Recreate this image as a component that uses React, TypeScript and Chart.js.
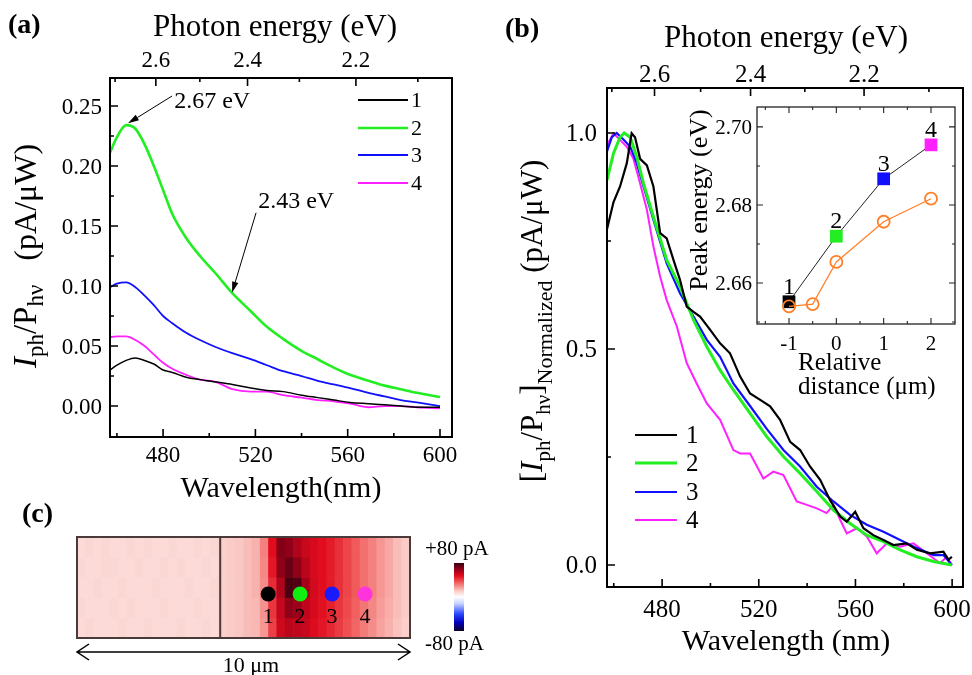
import React, { useEffect, useRef } from 'react';
import { Chart, registerables } from 'chart.js';

Chart.register(...registerables);

const W = 972;
const H = 675;
const SERIF = '"Liberation Serif", "Times New Roman", serif';
const HC = 1239.84; // eV·nm, wavelength <-> photon energy

// ---------------- shared series info ----------------
const seriesLabels = ['1', '2', '3', '4'];
const seriesColors = ['#000000', '#22ee22', '#1010ff', '#ff20ff'];

// ---------------- panel (a): raw spectra ----------------
const wlA = [457, 460, 464, 468, 472, 476, 480, 484, 490, 496, 503, 510, 518, 525, 532, 540, 547, 554, 561, 569, 576, 583, 590, 600];
const a1 = [0.030, 0.034, 0.038, 0.040, 0.038, 0.035, 0.030, 0.028, 0.024, 0.022, 0.020, 0.018, 0.015, 0.013, 0.012, 0.009, 0.007, 0.005, 0.003, 0.002, 0.001, 0.000, -0.001, -0.001];
const a2 = [0.211, 0.224, 0.234, 0.231, 0.218, 0.200, 0.180, 0.160, 0.140, 0.125, 0.110, 0.094, 0.079, 0.066, 0.056, 0.046, 0.039, 0.032, 0.026, 0.021, 0.017, 0.014, 0.011, 0.0075];
const a3 = [0.099, 0.102, 0.103, 0.099, 0.092, 0.084, 0.075, 0.069, 0.061, 0.055, 0.049, 0.044, 0.039, 0.034, 0.029, 0.025, 0.021, 0.018, 0.015, 0.011, 0.008, 0.005, 0.003, 0.000];
const a4 = [0.0575, 0.058, 0.058, 0.055, 0.050, 0.043, 0.036, 0.031, 0.026, 0.022, 0.020, 0.014, 0.012, 0.012, 0.009, 0.007, 0.005, 0.004, 0.002, -0.001, 0.000, 0.000, -0.001, -0.002];

// ---------------- panel (b): normalized spectra ----------------
const wlB1 = [457.1, 459.9, 462.6, 465.4, 467.4, 468.8, 470.9, 473.7, 476.4, 479.2, 481.9, 484.7, 487.4, 490.2, 493, 495.7, 499.9, 504, 508.1, 512.3, 516.4, 520.6, 524.7, 528.8, 533, 537.1, 541.2, 545.4, 549.5, 553.7, 556.4, 559.9, 563.3, 567.4, 571.6, 575.7, 581.2, 585.4, 590.9, 596.4, 598.5, 599.9];
const b1 = [0.775, 0.84, 0.876, 0.93, 0.999, 0.99, 0.94, 0.925, 0.876, 0.768, 0.756, 0.706, 0.66, 0.598, 0.586, 0.575, 0.544, 0.513, 0.49, 0.436, 0.397, 0.382, 0.367, 0.336, 0.285, 0.266, 0.228, 0.197, 0.15, 0.112, 0.1, 0.123, 0.085, 0.069, 0.058, 0.046, 0.05, 0.035, 0.027, 0.031, 0.012, 0.019];
const wlB2 = [457.2, 459.9, 462.6, 464.3, 466.8, 469.5, 472.3, 476.4, 481.9, 487.4, 493, 498.5, 504, 509.5, 516.4, 523.3, 530.2, 537.1, 544, 550.9, 557.8, 564.7, 571.6, 578.5, 585.4, 592.3, 599.9];
const b2 = [0.891, 0.953, 0.99, 1.0, 0.99, 0.945, 0.883, 0.806, 0.706, 0.644, 0.567, 0.505, 0.451, 0.405, 0.351, 0.297, 0.251, 0.212, 0.17, 0.127, 0.096, 0.069, 0.054, 0.035, 0.019, 0.008, 0.0];
const wlB3 = [457.2, 459.2, 461.2, 464, 466.8, 469.5, 472.3, 476.4, 481.9, 487.4, 493, 498.5, 504, 509.5, 516.4, 523.3, 530.2, 537.1, 544, 550.9, 557.8, 564.7, 571.6, 578.5, 585.4, 592.3, 596.4, 599.9];
const b3 = [0.957, 0.99, 1.0, 0.985, 0.968, 0.93, 0.876, 0.799, 0.698, 0.629, 0.575, 0.521, 0.482, 0.42, 0.368, 0.315, 0.266, 0.228, 0.181, 0.147, 0.116, 0.093, 0.077, 0.058, 0.039, 0.023, 0.023, 0.0];
const wlB4 = [457.2, 459.9, 462.6, 465.4, 468.1, 470.9, 473.7, 476.4, 479.2, 481.9, 486.1, 490.2, 494.3, 498.5, 504, 509.5, 512.3, 516.4, 521.9, 526, 530.2, 535.7, 539.9, 544, 548.1, 550.9, 553.7, 556.4, 560.6, 564.7, 568.8, 573, 578.5, 584, 589.5, 595, 597.8, 599.9];
const b4 = [0.972, 0.999, 0.984, 0.968, 0.941, 0.883, 0.822, 0.737, 0.667, 0.613, 0.552, 0.467, 0.42, 0.374, 0.336, 0.266, 0.258, 0.258, 0.2, 0.216, 0.208, 0.147, 0.139, 0.131, 0.12, 0.139, 0.104, 0.073, 0.085, 0.066, 0.027, 0.05, 0.042, 0.05, 0.027, 0.004, 0.019, 0.0];

// ---------------- inset: peak energy vs relative distance ----------------
const insetSquareX = [-1, 0, 1, 2];
const insetSquareY = [2.6552, 2.672, 2.6867, 2.6954];
const insetSquareLabels = ['1', '2', '3', '4'];
const insetCircleX = [-1, -0.5, 0, 1, 2];
const insetCircleY = [2.654, 2.6546, 2.6654, 2.6757, 2.6816];

// ---------------- panel (c): photocurrent map (pA), rows top -> bottom ----------------
const heatRow0 = [10, 11, 10, 11, 10, 10, 11, 10, 11, 10, 10, 11, 10, 10, 11, 10, 11, 13, 14, 15, 17, 19, 28, 50, 68, 66, 60, 55, 52, 50, 47, 43, 39, 35, 31, 28, 24, 21, 17, 14];
const heatRow1 = [11, 10, 10, 11, 11, 10, 10, 11, 10, 10, 11, 10, 11, 10, 10, 11, 10, 13, 14, 15, 17, 19, 27, 48, 66, 72, 66, 58, 52, 50, 47, 43, 39, 35, 31, 28, 24, 21, 17, 14];
const heatRow2 = [10, 10, 11, 10, 10, 11, 10, 10, 10, 11, 10, 10, 10, 11, 10, 10, 11, 13, 14, 15, 17, 19, 26, 44, 60, 77, 76, 62, 53, 50, 47, 43, 39, 35, 31, 28, 24, 21, 17, 14];
const heatRow3 = [11, 10, 10, 10, 11, 10, 11, 10, 10, 10, 11, 10, 10, 10, 11, 10, 10, 13, 14, 15, 17, 18, 25, 42, 56, 66, 64, 57, 52, 49, 46, 42, 38, 34, 30, 27, 23, 20, 17, 14];
const heatRow4 = [10, 11, 10, 10, 10, 11, 10, 10, 11, 10, 10, 10, 11, 10, 10, 11, 10, 13, 14, 15, 17, 18, 24, 40, 54, 58, 57, 55, 51, 48, 45, 41, 37, 33, 29, 26, 22, 19, 16, 13];
const heatRows = [heatRow0, heatRow1, heatRow2, heatRow3, heatRow4];
const heatWidthUm = 10;
const heatDividerUm = 4.3;
const dotX = [5.74, 6.7, 7.66, 8.65];
const dotY = 2.18;
const dotColors = ['#000000', '#11ee11', '#1a1aff', '#ff33dd'];
const colorbarLabels = ['+80 pA', '-80 pA'];
const scaleBarLabel = '10 μm';

// ---------------- ticks ----------------
const wlMajorTicks = [480, 520, 560, 600];
const wlMinorTicks = [460, 500, 540, 580];
const energyMajorTicks = [2.6, 2.4, 2.2];
const energyTickLabels = ['2.6', '2.4', '2.2'];
const energyMinorTicks = [2.7, 2.5, 2.3, 2.1];
const yMajorTicksA = [0, 0.05, 0.1, 0.15, 0.2, 0.25];
const yTickLabelsA = ['0.00', '0.05', '0.10', '0.15', '0.20', '0.25'];
const yMinorTicksA = [0.025, 0.075, 0.125, 0.175, 0.225];
const yMajorTicksB = [0, 0.5, 1.0];
const yTickLabelsB = ['0.0', '0.5', '1.0'];
const yMinorTicksB = [0.25, 0.75];
const insetXMajor = [-1, 0, 1, 2];
const insetXLabels = ['-1', '0', '1', '2'];
const insetXMinor = [-1.5, -0.5, 0.5, 1.5];
const insetYMajor = [2.66, 2.68, 2.7];
const insetYLabels = ['2.66', '2.68', '2.70'];
const insetYMinor = [2.65, 2.67, 2.69];

// annotations of panel (a), in data units [wavelength, value]
const annotationsA = [
  { text: '2.67 eV', textAt: [484.8, 0.248], from: [483.9, 0.2583], to: [464.8, 0.2355] },
  { text: '2.43 eV', textAt: [521.2, 0.165], from: [520.3, 0.161], to: [509.9, 0.0945] },
];

// colour map of the photocurrent map (value pA -> rgb)
const heatStops: [number, number[]][] = [
  [-80, [15, 0, 40]], [-60, [0, 0, 190]], [-40, [40, 70, 255]], [-15, [200, 212, 255]],
  [0, [255, 255, 255]], [15, [250, 200, 195]], [35, [240, 90, 90]], [50, [225, 12, 30]],
  [65, [150, 0, 25]], [80, [55, 0, 15]],
];

function heatColor(v: number): string {
  if (v <= heatStops[0][0]) return `rgb(${heatStops[0][1].join(',')})`;
  for (let i = 1; i < heatStops.length; i++) {
    const [v1, c1] = heatStops[i];
    const [v0, c0] = heatStops[i - 1];
    if (v <= v1) {
      const t = (v - v0) / (v1 - v0);
      const c = c0.map((k, j) => Math.round(k + (c1[j] - k) * t));
      return `rgb(${c.join(',')})`;
    }
  }
  return `rgb(${heatStops[heatStops.length - 1][1].join(',')})`;
}

// ---------------- drawing helpers ----------------
type Run = { t: string; size: number; italic?: boolean; bold?: boolean; dy?: number };

function runFont(r: Run) {
  return `${r.italic ? 'italic ' : ''}${r.bold ? 'bold ' : ''}${r.size}px ${SERIF}`;
}

function drawRich(ctx: CanvasRenderingContext2D, runs: Run[], x: number, y: number, rot = 0, align: 'center' | 'left' = 'center') {
  ctx.save();
  ctx.translate(x, y);
  if (rot) ctx.rotate(rot);
  ctx.textAlign = 'left';
  ctx.textBaseline = 'alphabetic';
  let total = 0;
  const widths = runs.map((r) => {
    ctx.font = runFont(r);
    const w = ctx.measureText(r.t).width;
    total += w;
    return w;
  });
  let cx = align === 'center' ? -total / 2 : 0;
  runs.forEach((r, i) => {
    ctx.font = runFont(r);
    ctx.fillText(r.t, cx, r.dy || 0);
    cx += widths[i];
  });
  ctx.restore();
}

function txt(ctx: CanvasRenderingContext2D, s: string, x: number, y: number, size: number, align: CanvasTextAlign = 'center', style = '') {
  ctx.font = `${style}${size}px ${SERIF}`;
  ctx.textAlign = align;
  ctx.textBaseline = 'alphabetic';
  ctx.fillText(s, x, y);
}

type Side = 'bottom' | 'top' | 'left' | 'right';
function drawTicks(chart: any, side: Side, pixels: number[], len: number) {
  const { ctx, chartArea: a } = chart;
  ctx.beginPath();
  pixels.forEach((p) => {
    if (side === 'bottom') { ctx.moveTo(p, a.bottom); ctx.lineTo(p, a.bottom - len); }
    else if (side === 'top') { ctx.moveTo(p, a.top); ctx.lineTo(p, a.top + len); }
    else if (side === 'left') { ctx.moveTo(a.left, p); ctx.lineTo(a.left + len, p); }
    else { ctx.moveTo(a.right, p); ctx.lineTo(a.right - len, p); }
  });
  ctx.stroke();
}

function arrow(ctx: CanvasRenderingContext2D, x0: number, y0: number, x1: number, y1: number, head = 11, half = 3.2) {
  const ang = Math.atan2(y1 - y0, x1 - x0);
  const bx = x1 - head * Math.cos(ang);
  const by = y1 - head * Math.sin(ang);
  ctx.beginPath();
  ctx.moveTo(x0, y0);
  ctx.lineTo(bx, by);
  ctx.stroke();
  ctx.beginPath();
  ctx.moveTo(x1, y1);
  ctx.lineTo(bx + half * Math.sin(ang), by - half * Math.cos(ang));
  ctx.lineTo(bx - half * Math.sin(ang), by + half * Math.cos(ang));
  ctx.closePath();
  ctx.fill();
}

function baseOptions(padding: any, xr: number[], yr: number[]) {
  return {
    animation: false,
    responsive: false,
    maintainAspectRatio: false,
    events: [],
    layout: { padding },
    plugins: { legend: { display: false }, tooltip: { enabled: false }, title: { display: false } },
    scales: {
      x: { type: 'linear', min: xr[0], max: xr[1], display: false },
      y: { type: 'linear', min: yr[0], max: yr[1], display: false },
    },
  };
}

function drawLegend(ctx: CanvasRenderingContext2D, chart: any, x0: number, x1: number, xText: number, ys: number[], size: number) {
  chart.data.datasets.forEach((ds: any, i: number) => {
    ctx.strokeStyle = ds.borderColor;
    ctx.lineWidth = Math.max(ds.borderWidth, 2);
    ctx.beginPath();
    ctx.moveTo(x0, ys[i]);
    ctx.lineTo(x1, ys[i]);
    ctx.stroke();
    ctx.fillStyle = '#000';
    txt(ctx, ds.label, xText, ys[i] + size * 0.33, size, 'left');
  });
}

// ---------------- panel (a) ----------------
const widthsA = [1.5, 2.6, 1.8, 1.8];
const seriesA = [a1, a2, a3, a4];

const panelAPlugin = {
  id: 'panelA',
  afterDraw(chart: any) {
    const { ctx, chartArea: a } = chart;
    const x = chart.scales.x;
    const y = chart.scales.y;
    ctx.save();
    ctx.strokeStyle = '#000';
    ctx.fillStyle = '#000';
    ctx.lineWidth = 2;
    ctx.strokeRect(a.left, a.top, a.width, a.height);
    ctx.lineWidth = 1.6;
    drawTicks(chart, 'bottom', wlMajorTicks.map((v) => x.getPixelForValue(v)), 8);
    drawTicks(chart, 'bottom', wlMinorTicks.map((v) => x.getPixelForValue(v)), 4);
    drawTicks(chart, 'top', energyMajorTicks.map((e) => x.getPixelForValue(HC / e)), 8);
    drawTicks(chart, 'top', energyMinorTicks.map((e) => x.getPixelForValue(HC / e)), 4);
    drawTicks(chart, 'left', yMajorTicksA.map((v) => y.getPixelForValue(v)), 8);
    drawTicks(chart, 'left', yMinorTicksA.map((v) => y.getPixelForValue(v)), 4);

    wlMajorTicks.forEach((v) => txt(ctx, String(v), x.getPixelForValue(v), a.bottom + 25, 23));
    energyMajorTicks.forEach((e, i) => txt(ctx, energyTickLabels[i], x.getPixelForValue(HC / e), a.top - 11, 23));
    yMajorTicksA.forEach((v, i) => txt(ctx, yTickLabelsA[i], a.left - 8, y.getPixelForValue(v) + 7.6, 23, 'right'));

    // titles
    txt(ctx, 'Photon energy (eV)', 275, 36, 31);
    txt(ctx, 'Wavelength(nm)', 281, 497, 30);
    drawRich(ctx, [
      { t: 'I', size: 33, italic: true },
      { t: 'ph', size: 23, dy: 7 },
      { t: '/P', size: 33 },
      { t: 'hν', size: 23, dy: 7 },
      { t: '   (pA/μW)', size: 32 },
    ], 36, 256, -Math.PI / 2);
    txt(ctx, '(a)', 8, 33, 28, 'left', 'bold ');

    // annotations
    ctx.lineWidth = 1;
    annotationsA.forEach((an) => {
      txt(ctx, an.text, x.getPixelForValue(an.textAt[0]), y.getPixelForValue(an.textAt[1]), 24, 'left');
      arrow(ctx, x.getPixelForValue(an.from[0]), y.getPixelForValue(an.from[1]), x.getPixelForValue(an.to[0]), y.getPixelForValue(an.to[1]));
    });

    drawLegend(ctx, chart, 358, 408, 411, [100, 128, 155, 183], 22);
    ctx.restore();
  },
};

function configA(): any {
  const opts: any = baseOptions({ left: 110, top: 78, right: W - 452, bottom: H - 437 }, [457.0, 605.2], [-0.0258, 0.2733]);
  return {
    type: 'line',
    data: {
      datasets: seriesA.map((vals, i) => ({
        label: seriesLabels[i],
        data: wlA.map((w, j) => ({ x: w, y: vals[j] })),
        borderColor: seriesColors[i],
        borderWidth: widthsA[i],
        pointRadius: 0,
        cubicInterpolationMode: 'monotone',
        fill: false,
      })),
    },
    options: opts,
    plugins: [panelAPlugin],
  };
}

// ---------------- panel (b) ----------------
const widthsB = [2.2, 3, 2.2, 2];
const seriesB = [[wlB1, b1], [wlB2, b2], [wlB3, b3], [wlB4, b4]];

const panelBPlugin = {
  id: 'panelB',
  afterDraw(chart: any) {
    const { ctx, chartArea: a } = chart;
    const x = chart.scales.x;
    const y = chart.scales.y;
    ctx.save();
    ctx.strokeStyle = '#000';
    ctx.fillStyle = '#000';
    ctx.lineWidth = 2;
    ctx.strokeRect(a.left, a.top, a.width, a.height);
    ctx.lineWidth = 1.6;
    drawTicks(chart, 'bottom', wlMajorTicks.map((v) => x.getPixelForValue(v)), 8);
    drawTicks(chart, 'bottom', wlMinorTicks.map((v) => x.getPixelForValue(v)), 4);
    drawTicks(chart, 'top', energyMajorTicks.map((e) => x.getPixelForValue(HC / e)), 8);
    drawTicks(chart, 'top', energyMinorTicks.map((e) => x.getPixelForValue(HC / e)), 4);
    drawTicks(chart, 'left', yMajorTicksB.map((v) => y.getPixelForValue(v)), 8);
    drawTicks(chart, 'left', yMinorTicksB.map((v) => y.getPixelForValue(v)), 4);

    wlMajorTicks.forEach((v) => txt(ctx, String(v), x.getPixelForValue(v), a.bottom + 30, 25));
    energyMajorTicks.forEach((e, i) => txt(ctx, energyTickLabels[i], x.getPixelForValue(HC / e), a.top - 6, 25));
    yMajorTicksB.forEach((v, i) => txt(ctx, yTickLabelsB[i], a.left - 10, y.getPixelForValue(v) + 8.2, 25, 'right'));

    txt(ctx, 'Photon energy (eV)', 786, 47, 31);
    txt(ctx, 'Wavelength (nm)', 786, 650, 30);
    drawRich(ctx, [
      { t: '[', size: 31 },
      { t: 'I', size: 31, italic: true },
      { t: 'ph', size: 21, dy: 8 },
      { t: '/P', size: 31 },
      { t: 'hν', size: 21, dy: 8 },
      { t: ']', size: 31 },
      { t: 'Normalized', size: 22, dy: 10 },
      { t: ' (pA/μW)', size: 31 },
    ], 542, 321, -Math.PI / 2);
    txt(ctx, '(b)', 505, 37, 28, 'left', 'bold ');

    drawLegend(ctx, chart, 635, 677, 686, [435, 463, 492, 520], 25);
    ctx.restore();
  },
};

function configB(): any {
  const opts: any = baseOptions({ left: 607, top: 88, right: W - 963, bottom: H - 587 }, [457.2, 604.5], [-0.051, 1.104]);
  return {
    type: 'line',
    data: {
      datasets: seriesB.map(([wl, vals], i) => ({
        label: seriesLabels[i],
        data: wl.map((w, j) => ({ x: w, y: vals[j] })),
        borderColor: seriesColors[i],
        borderWidth: widthsB[i],
        pointRadius: 0,
        tension: 0,
        fill: false,
      })),
    },
    options: opts,
    plugins: [panelBPlugin],
  };
}

// ---------------- inset ----------------
const insetPlugin = {
  id: 'inset',
  afterDraw(chart: any) {
    const { ctx, chartArea: a } = chart;
    const x = chart.scales.x;
    const y = chart.scales.y;
    ctx.save();
    ctx.strokeStyle = '#222';
    ctx.fillStyle = '#000';
    ctx.lineWidth = 1.3;
    ctx.strokeRect(a.left, a.top, a.width, a.height);
    ctx.lineWidth = 1.1;
    const xm = insetXMajor.map((v) => x.getPixelForValue(v));
    const xn = insetXMinor.map((v) => x.getPixelForValue(v));
    const ym = insetYMajor.map((v) => y.getPixelForValue(v));
    const yn = insetYMinor.map((v) => y.getPixelForValue(v));
    drawTicks(chart, 'bottom', xm, 6); drawTicks(chart, 'bottom', xn, 3);
    drawTicks(chart, 'top', xm, 6); drawTicks(chart, 'top', xn, 3);
    drawTicks(chart, 'left', ym, 6); drawTicks(chart, 'left', yn, 3);
    drawTicks(chart, 'right', ym, 6); drawTicks(chart, 'right', yn, 3);

    insetXMajor.forEach((v, i) => txt(ctx, insetXLabels[i], x.getPixelForValue(v), a.bottom + 26, 21));
    insetYMajor.forEach((v, i) => txt(ctx, insetYLabels[i], a.left - 5, y.getPixelForValue(v) + 7, 21, 'right'));

    drawRich(ctx, [{ t: 'Peak energy (eV)', size: 26 }], 707, 200, -Math.PI / 2);
    txt(ctx, 'Relative', 798, 370, 25, 'left');
    txt(ctx, 'distance (μm)', 798, 394, 25, 'left');

    insetSquareX.forEach((v, i) => {
      txt(ctx, insetSquareLabels[i], x.getPixelForValue(v), y.getPixelForValue(insetSquareY[i]) - 8, 24);
    });
    ctx.restore();
  },
};

function configInset(): any {
  const opts: any = baseOptions({ left: 757, top: 107, right: W - 955, bottom: H - 324 }, [-1.676, 2.507], [2.6495, 2.7051]);
  const squareColors = seriesColors.slice(0, insetSquareX.length);
  return {
    type: 'line',
    data: {
      datasets: [
        {
          label: 'circles',
          data: insetCircleX.map((v, i) => ({ x: v, y: insetCircleY[i] })),
          borderColor: '#ff7f27',
          borderWidth: 1.2,
          pointStyle: 'circle',
          pointRadius: 6,
          pointBorderWidth: 1.8,
          pointBorderColor: '#ff7f27',
          pointBackgroundColor: 'rgba(255,255,255,0)',
          tension: 0,
        },
        {
          label: 'squares',
          data: insetSquareX.map((v, i) => ({ x: v, y: insetSquareY[i] })),
          borderColor: '#222',
          borderWidth: 1,
          pointStyle: 'rect',
          pointRadius: 9,
          pointBorderWidth: 0,
          pointBackgroundColor: squareColors,
          pointBorderColor: squareColors,
          tension: 0,
        },
      ],
    },
    options: opts,
    plugins: [insetPlugin],
  };
}

// ---------------- panel (c) ----------------
const heatPlugin = {
  id: 'heat',
  afterDraw(chart: any) {
    const { ctx, chartArea: a } = chart;
    const x = chart.scales.x;
    const y = chart.scales.y;
    ctx.save();
    ctx.strokeStyle = '#4a3a3a';
    ctx.lineWidth = 2;
    ctx.strokeRect(a.left, a.top, a.width, a.height);
    const dx = x.getPixelForValue(heatDividerUm);
    ctx.beginPath();
    ctx.moveTo(dx, a.top);
    ctx.lineTo(dx, a.bottom);
    ctx.stroke();

    ctx.fillStyle = '#000';
    dotX.forEach((v, i) => txt(ctx, seriesLabels[i], x.getPixelForValue(v), y.getPixelForValue(dotY) + 29, 22));

    // colour bar
    const cbL = a.right + 44;
    const cbT = a.top + 26;
    const cbB = a.bottom - 7;
    const g = ctx.createLinearGradient(0, cbT, 0, cbB);
    heatStops.forEach(([v, c]) => g.addColorStop((80 - v) / 160, `rgb(${c.join(',')})`));
    ctx.fillStyle = g;
    ctx.fillRect(cbL, cbT, 10, cbB - cbT);
    ctx.fillStyle = '#000';
    txt(ctx, colorbarLabels[0], a.right + 15, 555, 21, 'left');
    txt(ctx, colorbarLabels[1], a.right + 15, 650, 21, 'left');

    // scale bar arrow
    ctx.strokeStyle = '#000';
    ctx.lineWidth = 1.5;
    const ay = a.bottom + 14;
    ctx.beginPath();
    ctx.moveTo(a.left, ay); ctx.lineTo(a.right, ay);
    ctx.moveTo(a.left + 12, ay - 8); ctx.lineTo(a.left, ay); ctx.lineTo(a.left + 12, ay + 8);
    ctx.moveTo(a.right - 12, ay - 8); ctx.lineTo(a.right, ay); ctx.lineTo(a.right - 12, ay + 8);
    ctx.stroke();
    txt(ctx, scaleBarLabel, 251, 672, 22);
    txt(ctx, '(c)', 22, 522, 28, 'left', 'bold ');
    ctx.restore();
  },
};

function configC(): any {
  const nRows = heatRows.length;
  const colStep = heatWidthUm / heatRows[0].length;
  const opts: any = baseOptions({ left: 77, top: 537, right: W - 410, bottom: H - 638 }, [0, heatWidthUm], [0, nRows]);
  opts.scales.x.offset = false;
  opts.scales.x.ticks = { stepSize: 1 };
  opts.scales.x.grid = { offset: false };
  return {
    type: 'bar',
    data: {
      datasets: [
        {
          type: 'scatter',
          label: 'points',
          data: dotX.map((v) => ({ x: v, y: dotY })),
          pointRadius: 7.5,
          pointBorderWidth: 0,
          pointBackgroundColor: dotColors,
          pointBorderColor: dotColors,
        },
        ...heatRows.map((row, r) => ({
          type: 'bar',
          label: `row${r}`,
          data: row.map((v, c) => ({ x: (c + 0.5) * colStep, y: [nRows - 1 - r, nRows - r] })),
          backgroundColor: row.map(heatColor),
          borderWidth: 0,
          grouped: false,
          barPercentage: 1,
          categoryPercentage: 1,
        })),
      ],
    },
    options: opts,
    plugins: [heatPlugin],
  };
}

// ---------------- component ----------------
export default function App() {
  const refA = useRef<HTMLCanvasElement>(null);
  const refB = useRef<HTMLCanvasElement>(null);
  const refI = useRef<HTMLCanvasElement>(null);
  const refC = useRef<HTMLCanvasElement>(null);

  useEffect(() => {
    const charts = [
      new Chart(refC.current as HTMLCanvasElement, configC()),
      new Chart(refA.current as HTMLCanvasElement, configA()),
      new Chart(refB.current as HTMLCanvasElement, configB()),
      new Chart(refI.current as HTMLCanvasElement, configInset()),
    ];
    return () => charts.forEach((c) => c.destroy());
  }, []);

  const cs: React.CSSProperties = { position: 'absolute', left: 0, top: 0, width: W, height: H };
  return (
    <div style={{ position: 'fixed', left: 0, top: 0, width: W, height: H, background: '#ffffff', overflow: 'hidden' }}>
      <canvas ref={refC} width={W} height={H} style={cs} />
      <canvas ref={refA} width={W} height={H} style={cs} />
      <canvas ref={refB} width={W} height={H} style={cs} />
      <canvas ref={refI} width={W} height={H} style={cs} />
    </div>
  );
}
